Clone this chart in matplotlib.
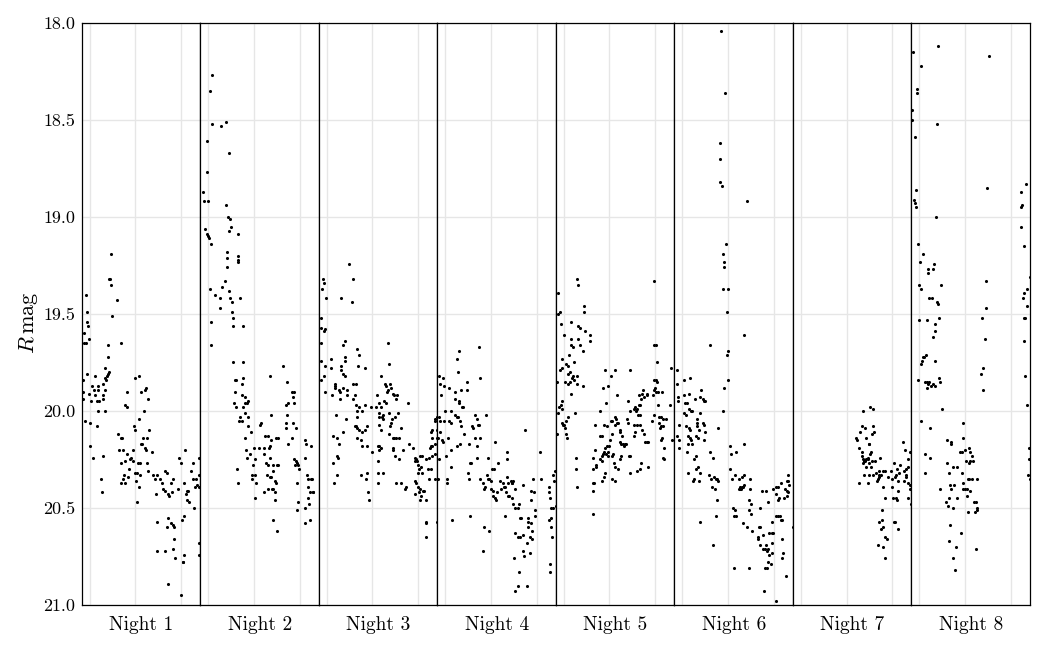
import matplotlib
matplotlib.use("Agg")
import matplotlib.pyplot as plt
from matplotlib.ticker import FormatStrFormatter

plt.rcParams["font.family"] = "serif"
plt.rcParams["font.serif"] = ["cmr10", "DejaVu Serif"]
plt.rcParams["mathtext.fontset"] = "cm"
plt.rcParams["axes.formatter.use_mathtext"] = True

# hours since the first grid line of each night, R magnitude
night1_hr = [-0.08, -0.07, -0.05, -0.04, -0.12, -0.12, -0.09, -0.02,
             0.46, 0.42, 0.44, 0.47, 0.59, 0.48, 0.68, 0.39, 0.41,
             0.34, 0.33, 0.36, 0.37, 0.40, 0.43, -0.05, -0.14,
             0.04, 0.11, 0.18, -0.15, -0.01, 0.09, 0.12, 0.17, 0.30, 0.33,
             -0.15, 0.02, 0.15, 0.20, 0.28, 0.30, 0.17, 0.33,
             -0.11, 0.00, 0.15, 0.01, 0.08, 0.25, 0.27, 0.28,
             0.62, 0.69, 0.71, 0.76, 0.81, 0.82,
             1.00, 1.07, 1.11, 1.21, 1.23, 1.27, 1.19, 1.08, 0.97, 0.98,
             1.17, 1.13, 1.14, 1.20, 1.23, 1.26, 1.29,
             0.65, 0.73, 0.81, 0.88, 0.95, 0.91, 0.94, 1.05, 1.10, 1.26, 1.36,
             0.68, 0.76, 0.85, 0.75, 0.72, 0.69, 0.78, 0.84, 1.00, 1.03, 1.10, 1.27, 1.01, 1.03, 1.08,
             1.39, 1.43, 1.48, 1.64, 1.68, 1.53, 1.59, 1.82, 1.77,
             1.45, 1.61, 1.64, 1.71, 1.74, 1.80, 1.93, 2.07, 2.12, 2.15, 2.26, 2.33, 2.38, 2.31, 2.35, 2.39,
             1.46, 1.68, 1.71, 1.77, 1.81, 1.85, 2.01, 2.06,
             1.48, 1.65, 1.84, 1.83, 1.87, 2.06, 2.03, 2.04, 1.72, 2.00,
             1.96, 1.99, 2.09, 2.25, 2.22, 2.38, 2.10, 2.13, 2.17, 2.28, 2.38, 2.39]
night1_mag = [19.40, 19.49, 19.54, 19.56, 19.60, 19.65, 19.65, 19.63,
              19.19, 19.32, 19.32, 19.35, 19.43, 19.51, 19.65, 19.66, 19.72,
              19.78, 19.83, 19.84, 19.82, 19.81, 19.80, 19.81, 19.84,
              19.87, 19.82, 19.87, 19.90, 19.91, 19.89, 19.92, 19.89, 19.86, 19.89,
              19.94, 19.95, 19.95, 19.95, 19.94, 19.92, 20.00, 20.00,
              20.05, 20.06, 20.08, 20.18, 20.24, 20.35, 20.42, 20.23,
              20.12, 20.14, 20.14, 19.97, 19.98, 19.90,
              19.83, 19.82, 19.90, 19.89, 19.88, 19.94, 20.00, 20.04, 20.08, 20.10,
              20.14, 20.17, 20.17, 20.19, 20.20, 20.14, 20.10,
              20.20, 20.20, 20.22, 20.25, 20.20, 20.24, 20.26, 20.27, 20.27, 20.27, 20.21,
              20.27, 20.26, 20.30, 20.33, 20.35, 20.37, 20.37, 20.34, 20.32, 20.32, 20.33, 20.31, 20.36, 20.47, 20.39,
              20.33, 20.35, 20.33, 20.31, 20.32, 20.35, 20.37, 20.35, 20.37,
              20.43, 20.40, 20.41, 20.43, 20.44, 20.42, 20.40, 20.37, 20.41, 20.41, 20.35, 20.35, 20.33, 20.39, 20.38, 20.39,
              20.57, 20.60, 20.55, 20.58, 20.59, 20.60, 20.56, 20.54,
              20.72, 20.72, 20.66, 20.71, 20.76, 20.74, 20.78, 20.78, 20.89, 20.95,
              20.24, 20.27, 20.20, 20.27, 20.31, 20.24, 20.43, 20.46, 20.47, 20.50, 20.74, 20.68]

night2_hr = [0.09, 0.04, 0.09, 0.28, 0.39, -0.03, 0.45, -0.02, -0.12, -0.10, 0.00,
             0.38, 0.44, 0.48, 0.49, 0.45, -0.06, -0.03, -0.01, 0.01, 0.07, 0.65,
             0.41, 0.41, 0.66, 0.65, 0.64, 0.42, 0.03, 0.15, 0.25, 0.29, 0.36,
             0.45, 0.48, 0.52, 0.70, 0.26, 0.51, 0.54, 0.55, 0.76, 0.06, 0.06,
             0.55, 0.77, 0.58, 0.61, 0.77, 0.73, 0.58, 0.74, 0.80, 0.84, 0.87, 0.80,
             0.57, 0.61, 0.77, 0.80, 0.70, 0.68, 0.73, 0.86, 0.86, 0.93, 0.81,
             0.83, 0.84, 0.91, 0.99, 0.63, 0.64, 0.97, 0.95, 1.03, 0.96, 1.03, 1.05, 1.12, 1.02,
             1.13, 1.16, 1.25, 1.22, 1.21, 1.32, 1.35, 1.31, 1.38, 1.35, 1.37, 1.48, 1.53,
             1.27, 1.30, 1.34, 1.28, 1.34, 1.37, 1.41, 1.42, 1.51, 1.53,
             1.31, 1.40, 1.42, 1.45, 1.22, 1.45, 1.48, 1.47, 1.41, 1.51,
             1.64, 1.72, 1.83, 1.88, 1.85, 1.75, 1.70, 1.88, 1.72, 1.70, 1.70, 1.85, 1.92, 1.83, 1.75,
             1.88, 1.91, 1.94, 1.90, 1.96, 1.98, 1.95, 1.96, 1.95,
             2.11, 2.14, 2.24, 2.12, 2.15, 2.18, 2.24, 2.27, 2.18, 2.22, 2.28, 2.30, 2.17, 2.21, 2.11, 2.22, 2.11]
night2_mag = [18.27, 18.35, 18.52, 18.53, 18.51, 18.61, 18.67, 18.77, 18.87, 18.92, 18.92,
              18.94, 19.00, 19.01, 19.05, 19.07, 19.06, 19.09, 19.10, 19.11, 19.14, 19.09,
              19.18, 19.21, 19.20, 19.22, 19.23, 19.26, 19.37, 19.40, 19.42, 19.36, 19.33,
              19.38, 19.42, 19.44, 19.42, 19.47, 19.49, 19.52, 19.56, 19.56, 19.54, 19.66,
              19.75, 19.75, 19.84, 19.84, 19.83, 19.86, 19.90, 19.92, 19.93, 19.96, 19.95, 19.96,
              19.96, 19.98, 19.98, 20.01, 20.03, 20.05, 20.05, 20.03, 20.08, 20.11, 20.14,
              20.20, 20.24, 20.22, 20.19, 20.30, 20.37, 20.28, 20.33, 20.25, 20.35, 20.33, 20.37, 20.19, 20.45,
              20.07, 20.06, 20.13, 20.19, 20.22, 20.19, 20.18, 20.13, 20.15, 19.82, 20.02, 20.14, 20.14,
              20.27, 20.28, 20.24, 20.33, 20.34, 20.34, 20.28, 20.31, 20.28, 20.28,
              20.40, 20.40, 20.40, 20.42, 20.42, 20.36, 20.37, 20.46, 20.56, 20.62,
              19.77, 19.85, 19.90, 19.90, 19.93, 19.96, 19.97, 19.96, 20.02, 20.06, 20.09, 20.06, 20.09, 20.14, 20.17,
              20.25, 20.26, 20.27, 20.28, 20.28, 20.30, 20.37, 20.47, 20.51,
              20.15, 20.17, 20.18, 20.24, 20.33, 20.35, 20.35, 20.35, 20.39, 20.42, 20.42, 20.42, 20.45, 20.48, 20.50, 20.56, 20.58]

night3_hr = [0.49, 0.57, 0.55, -0.09, -0.07, -0.10, -0.01, 0.32,
             -0.13, -0.13, -0.13, -0.06, -0.03, -0.13, -0.03, -0.13, -0.06, -0.04,
             0.09, 0.10, 0.35, 0.39, 0.39, 0.39, 0.31, 0.31, 0.35, 0.41,
             0.17, 0.19, 0.17, 0.26, 0.28, 0.35, 0.44, 0.12, 0.29, 0.45,
             0.67, 0.70, 0.68, 0.83, 0.58, 0.63, 0.61, 0.58, 0.63, 0.70, 0.77, 0.67, 0.66, 0.84, 0.96,
             0.20, 0.42, 0.36, 0.61, 0.64, 0.67, 0.71, 0.76, 0.84, 0.87,
             0.66, 0.74, 0.76, 0.89, 0.13, 0.23, 0.26, 0.22, 0.25, 0.13, 0.74, 0.22, 0.15,
             0.86, 0.89, 0.90, 0.92, 0.99,
             1.08, 1.18, 1.09, 1.15, 1.19, 1.15, 1.15, 1.21, 1.22, 1.15, 1.18,
             1.11, 1.14, 1.15, 1.19, 1.12, 1.12, 1.24, 1.11,
             1.34, 1.36, 1.27, 1.29, 1.31, 1.34, 1.38, 1.40, 1.45, 1.48, 1.25, 1.29, 1.22, 1.35,
             1.51, 1.54, 1.56, 1.43, 1.40, 1.38, 1.50, 1.44, 1.47, 1.45, 1.45, 1.35, 1.51, 1.57, 1.63, 1.77,
             1.50, 1.57, 1.51, 1.63, 1.67, 1.70, 1.73, 1.79, 1.88,
             1.92, 1.95, 1.98, 1.92, 1.99, 2.04, 2.09, 2.02, 1.99, 2.07, 2.08,
             1.92, 1.96, 1.99, 2.04, 1.92, 2.02, 2.07, 2.04, 2.10, 2.17, 2.12,
             2.18, 2.24, 2.30, 2.36, 2.21, 2.27, 2.25, 2.28, 2.31, 2.36,
             2.28, 2.31, 2.36, 2.37, 2.40, 2.40, 2.40, 2.24, 2.37, 2.30,
             2.17, 2.18, 2.17, 2.40]
night3_mag = [19.24, 19.32, 19.44, 19.32, 19.34, 19.37, 19.42, 19.42,
              19.52, 19.57, 19.65, 19.59, 19.58, 19.74, 19.77, 19.84, 19.82, 19.90,
              19.73, 19.78, 19.66, 19.64, 19.72, 19.74, 19.77, 19.79, 19.81, 19.82,
              19.86, 19.87, 19.88, 19.89, 19.90, 19.88, 19.89, 19.92, 19.94, 19.92,
              19.68, 19.71, 19.77, 19.78, 19.86, 19.86, 19.92, 19.94, 19.97, 19.98, 20.00, 20.00, 20.03, 19.97, 19.98,
              20.02, 20.04, 20.11, 20.08, 20.08, 20.09, 20.10, 20.11, 20.10, 20.08,
              20.14, 20.15, 20.18, 20.18, 20.13, 20.14, 20.17, 20.23, 20.24, 20.27, 20.33, 20.33, 20.37,
              20.35, 20.32, 20.42, 20.46, 20.21,
              19.98, 19.82, 19.92, 19.96, 19.98, 20.01, 20.03, 20.03, 20.04, 20.07, 20.10,
              20.18, 20.18, 20.20, 20.19, 20.26, 20.32, 20.32, 20.37,
              19.65, 19.76, 19.86, 19.87, 19.90, 19.89, 19.86, 19.88, 19.91, 19.92, 19.95, 19.96, 20.02, 20.01,
              19.94, 19.92, 20.01, 20.04, 20.06, 20.08, 20.03, 20.14, 20.14, 20.19, 20.20, 20.12, 20.14, 20.14, 20.09, 19.96,
              20.23, 20.25, 20.37, 20.37, 20.20, 20.40, 20.39, 20.17, 20.19,
              20.24, 20.25, 20.26, 20.26, 20.28, 20.23, 20.23, 20.30, 20.32, 20.29, 20.32,
              20.36, 20.37, 20.39, 20.40, 20.43, 20.42, 20.44, 20.46, 20.41, 20.46, 20.41,
              20.25, 20.24, 20.23, 20.22, 20.30, 20.30, 20.19, 20.18, 20.18, 20.17,
              20.11, 20.14, 20.05, 20.04, 20.03, 20.10, 20.14, 20.35, 20.35, 20.10,
              20.58, 20.57, 20.65, 20.57]

night4_hr = [0.74, 0.29, 0.25, 0.28, 0.76, -0.13, -0.04, -0.12, -0.03, 0.09, -0.10,
             0.22, 0.35, 0.48, 0.48, 0.22, 0.29, 0.31, 0.36, 0.39, 0.00,
             0.13, 0.09, 0.12, -0.13, -0.12, -0.03, 0.22, 0.25, 0.28, 0.32, 0.34,
             0.66, 0.69, 0.74, 0.72, 0.58, 0.60, 0.89,
             -0.12, -0.07, -0.04, -0.16, 0.06, 0.41, 0.51, 0.66, 0.69, 0.77,
             0.12, 0.25, 0.32, 0.01, 0.13, 0.03, 0.04, -0.13, -0.16,
             0.70, 0.93, 1.08, 0.50, 0.51, 0.55, 0.57,
             0.77, 0.83, 0.86, 0.85, 0.91, 0.93, 0.96, 0.99, 1.02, 1.07,
             1.01, 1.05, 1.04, 1.15, 1.20, 1.26, 1.28, 1.21, 1.14, 1.09, 1.12,
             1.34, 1.36, 1.74, 1.34, 1.37, 1.43, 1.46, 1.31, 1.33, 1.37, 1.40, 1.45,
             1.49, 1.47, 1.53, 1.49, 1.53, 1.59, 1.62, 1.69, 1.31, 1.64, 1.66,
             1.80, 1.81, 1.88, 1.91, 1.88, 1.94, 1.88, 1.96, 1.97, 1.90,
             2.07, 2.09, 0.85, 0.96, 0.82, 0.55, 0.15,
             1.53, 1.58, 1.64, 1.69, 1.78, 1.80, 1.85, 1.90,
             1.50, 1.61, 1.69, 1.72, 1.85, 1.52, 1.59, 1.78,
             2.26, 2.26, 2.29, 2.26, 2.31, 2.32, 2.34, 2.28, 2.29,
             2.35, 2.38, 2.39, 2.42, 2.36, 2.31]
night4_mag = [19.67, 19.69, 19.73, 19.80, 19.83, 19.82, 19.83, 19.86, 19.87, 19.88, 19.92,
              19.90, 19.89, 19.89, 19.85, 19.94, 19.95, 19.96, 19.98, 19.98, 20.00,
              20.00, 20.05, 20.06, 20.03, 20.05, 20.05, 20.02, 20.03, 20.03, 20.05, 20.08,
              20.02, 20.04, 20.07, 20.07, 20.08, 20.09, 20.02,
              20.11, 20.15, 20.16, 20.14, 20.14, 20.12, 20.17, 20.14, 20.18, 20.14,
              20.20, 20.18, 20.17, 20.23, 20.29, 20.35, 20.37, 20.25, 20.35,
              20.24, 20.24, 20.16, 20.32, 20.35, 20.27, 20.27,
              20.35, 20.37, 20.39, 20.40, 20.33, 20.35, 20.35, 20.36, 20.30, 20.30,
              20.40, 20.41, 20.44, 20.27, 20.36, 20.37, 20.39, 20.40, 20.42, 20.45, 20.46,
              20.21, 20.25, 20.10, 20.34, 20.37, 20.36, 20.37, 20.39, 20.42, 20.44, 20.44, 20.45,
              20.36, 20.37, 20.40, 20.48, 20.50, 20.50, 20.48, 20.38, 20.54, 20.55, 20.55,
              20.55, 20.57, 20.58, 20.35, 20.41, 20.42, 20.46, 20.51, 20.54, 20.62,
              20.21, 20.35, 20.60, 20.62, 20.72, 20.54, 20.56,
              20.63, 20.65, 20.65, 20.64, 20.68, 20.60, 20.65, 20.66,
              20.76, 20.83, 20.72, 20.75, 20.73, 20.93, 20.90, 20.90,
              20.39, 20.42, 20.45, 20.56, 20.55, 20.60, 20.65, 20.79, 20.83,
              20.33, 20.36, 20.31, 20.49, 20.50, 20.50]

night5_hr = [0.29, 0.32, 1.98, -0.13, -0.12, -0.09, -0.06, 0.45, 0.45, 0.15,
             0.32, 0.35, 0.47, 0.57, 0.58, 0.01, 0.15, 0.16, 0.20, 0.32, 0.35, 0.41,
             0.12, -0.03, -0.04, -0.09, 0.04, 0.09, 0.10, 0.23, 0.13,
             0.20, 0.17, 0.23, 0.28, 0.29, 0.03, 0.09, 0.13, -0.15, 0.41, 0.16,
             -0.03, -0.07, -0.10, -0.13, -0.04, 0.25, 0.09, 0.06, -0.04, -0.01, 0.01,
             0.03, 0.06, 0.07, -0.15, 0.26, 0.26, 0.28,
             0.90, 1.13, 1.45, 1.03, 0.86, 0.96, 1.16, 0.93, 0.79,
             1.03, 1.06, 0.68, 0.89, 0.95, 1.12, 1.15, 1.16, 1.18, 1.12,
             0.80, 0.84, 1.05, 1.24,
             0.68, 0.64, 0.63, 0.63, 0.67, 0.65, 0.63, 0.71, 0.71,
             0.79, 0.83, 0.83, 0.86, 0.90, 0.95, 0.96, 0.89, 0.93, 0.96, 0.98, 1.02,
             1.09, 1.11, 1.08, 1.05, 1.11, 1.06, 0.83, 0.87, 0.90,
             1.19, 1.22, 1.25, 1.29, 1.32, 1.34, 1.37, 1.43, 1.45, 1.44, 1.22, 1.25,
             1.27, 1.24, 1.38, 1.40, 1.41, 1.44,
             1.53, 1.56, 1.59, 1.61, 1.63, 1.67, 1.54, 1.60, 1.67,
             1.64, 1.67, 1.69, 1.64, 1.70, 1.73, 1.76, 1.81, 1.83,
             1.53, 1.56, 1.70, 1.75, 1.83, 1.84, 1.78, 1.60, 1.67, 1.69, 1.85,
             1.96, 1.98, 1.99, 2.02, 1.93, 1.98, 1.98, 2.01, 2.04,
             1.98, 2.01, 2.04, 2.07, 2.14, 2.07, 2.08, 2.12, 2.17,
             2.08, 2.12, 2.18, 2.10, 2.14, 2.12, 2.20, 2.17, 2.20,
             2.24, 2.33, 2.34, 2.36]
night5_mag = [19.32, 19.35, 19.33, 19.39, 19.50, 19.49, 19.55, 19.46, 19.49, 19.54,
              19.56, 19.57, 19.59, 19.61, 19.64, 19.61, 19.63, 19.66, 19.67, 19.63, 19.66, 19.69,
              19.71, 19.73, 19.78, 19.79, 19.76, 19.77, 19.81, 19.75, 19.80,
              19.82, 19.83, 19.84, 19.82, 19.86, 19.85, 19.86, 19.85, 19.85, 19.87, 19.91,
              19.95, 19.97, 19.98, 20.01, 19.99, 20.01, 20.03, 20.05, 20.06, 20.07, 20.07,
              20.09, 20.12, 20.14, 20.12, 20.24, 20.30, 20.39,
              19.79, 19.79, 19.79, 19.82, 19.88, 19.87, 19.92, 19.96, 20.00,
              20.05, 20.05, 20.07, 20.07, 20.08, 20.03, 20.04, 20.06, 20.06, 20.07,
              20.13, 20.13, 20.12, 20.11,
              20.20, 20.24, 20.30, 20.37, 20.37, 20.41, 20.53, 20.28, 20.29,
              20.25, 20.26, 20.23, 20.22, 20.19, 20.18, 20.23, 20.21, 20.22, 20.21, 20.18, 20.15,
              20.27, 20.29, 20.22, 20.23, 20.36, 20.35, 20.36, 20.34, 20.32,
              20.30, 20.16, 20.17, 20.17, 20.18, 20.17, 20.17, 20.23, 20.23, 20.32, 20.25, 20.23,
              20.13, 20.10, 20.04, 20.06, 19.95, 20.00,
              19.99, 19.98, 20.00, 19.99, 20.02, 20.02, 20.07, 20.07, 20.07,
              19.97, 19.97, 19.94, 19.92, 19.91, 19.89, 19.93, 19.92, 19.91,
              20.13, 20.11, 20.10, 20.12, 20.16, 20.16, 20.16, 20.31, 20.30, 20.27, 20.29,
              19.92, 19.89, 19.88, 19.90, 20.05, 20.02, 19.66, 19.66, 19.75,
              19.84, 19.84, 19.85, 19.90, 19.90, 19.97, 20.03, 20.03, 20.04,
              20.06, 20.08, 20.08, 20.09, 20.14, 20.15, 20.19, 20.24, 20.25,
              20.04, 19.97, 19.78, 20.15]

night6_hr = [0.85, 0.93, 0.82, 0.83, 0.83, 0.86, 1.42,
             0.95, 0.88, 0.91, 0.92, 0.89, 1.01, 0.98, 1.34, 0.60, 1.01, 0.98,
             -0.12, -0.12, 0.03, 0.16, 1.01, 0.91,
             -0.09, -0.09, 0.04, 0.15, 0.06, 0.10, 0.15, 0.19, 0.22, 0.04, 0.09,
             0.28, 0.39, 0.45, 0.48, 0.50, 0.41, 0.88,
             -0.06, -0.12, -0.07, -0.06, 0.09, 0.15, 0.18, 0.12, 0.18, 0.20,
             0.32, 0.32, 0.32, 0.45, 0.48, 0.38, 0.36, 0.50, 0.29, 0.35, 0.48,
             0.12, 0.22, 0.10, 0.29, 0.25, 0.34, 0.31, 0.39, 0.13, 0.25, 0.23, 0.36,
             0.58, 0.63, 0.69, 0.73, 0.79, 0.77, 0.64, 0.72, 0.76,
             0.79, 0.61, 0.67, 0.74, 0.67, 0.38,
             1.05, 1.07, 1.17, 1.36, 1.04, 1.08, 1.15,
             1.24, 1.26, 1.27, 1.28, 1.31, 1.33, 1.34, 1.23, 1.31, 1.34,
             1.12, 1.15, 1.18, 1.14, 1.49, 1.49, 1.46, 1.50, 1.46, 1.50,
             1.33, 1.42, 1.52, 1.71, 1.75, 1.82, 1.87,
             1.99, 2.06, 2.10, 2.15, 2.28, 2.31, 2.32, 2.34,
             2.06, 2.12, 2.09, 2.23, 2.28, 2.32, 2.25, 2.28,
             2.04, 2.10, 2.13, 2.15, 2.18, 1.97,
             1.90, 1.96, 1.99, 1.68, 1.71, 1.77, 1.66, 1.65,
             1.69, 1.77, 1.81, 1.85, 1.88, 1.84, 1.90, 1.96, 1.97,
             1.87, 1.93, 1.81, 1.85, 2.18, 2.20, 2.19,
             1.14, 1.46, 2.26, 1.78, 2.04, 2.41]
night6_mag = [18.04, 18.36, 18.62, 18.70, 18.82, 18.84, 18.92,
              19.14, 19.19, 19.23, 19.26, 19.37, 19.37, 19.49, 19.61, 19.66, 19.69, 19.71,
              19.79, 19.86, 19.84, 19.83, 19.84, 19.88,
              19.93, 19.95, 19.92, 19.91, 19.96, 19.96, 19.99, 20.00, 20.00, 20.01, 20.02,
              19.94, 19.93, 19.94, 19.95, 19.95, 19.89, 20.00,
              20.07, 20.13, 20.15, 20.19, 20.08, 20.09, 20.10, 20.13, 20.14, 20.15,
              20.04, 20.06, 20.08, 20.06, 20.07, 20.01, 20.10, 20.11, 20.13, 20.14, 20.15,
              20.17, 20.17, 20.21, 20.23, 20.25, 20.29, 20.30, 20.32, 20.32, 20.35, 20.36, 20.36,
              20.33, 20.35, 20.34, 20.35, 20.36, 20.35, 20.39, 20.40, 20.46,
              20.09, 20.21, 20.24, 20.54, 20.69, 20.57,
              20.18, 20.22, 20.21, 20.17, 20.30, 20.35, 20.33,
              20.40, 20.39, 20.40, 20.40, 20.39, 20.39, 20.38, 20.35, 20.34, 20.33,
              20.50, 20.51, 20.54, 20.54, 20.35, 20.40, 20.46, 20.48, 20.51, 20.53,
              20.58, 20.60, 20.62, 20.50, 20.41, 20.41, 20.47,
              20.40, 20.39, 20.39, 20.37, 20.36, 20.33, 20.36, 20.38,
              20.43, 20.45, 20.46, 20.45, 20.44, 20.42, 20.40, 20.41,
              20.54, 20.54, 20.54, 20.56, 20.56, 20.57,
              20.63, 20.63, 20.63, 20.60, 20.60, 20.64, 20.66, 20.65,
              20.69, 20.71, 20.71, 20.72, 20.71, 20.69, 20.74, 20.68, 20.73,
              20.78, 20.79, 20.81, 20.81, 20.66, 20.73, 20.76,
              20.81, 20.81, 20.85, 20.93, 20.98, 20.60]

night7_hr = [1.37, 1.52, 1.59, 1.33, 1.40, 1.21, 1.23, 1.30, 1.43, 1.58, 1.61,
             1.49, 1.50, 1.28, 1.56,
             1.33, 1.34, 1.36, 1.37, 1.39, 1.40, 1.43, 1.47, 1.52, 1.53, 1.46,
             1.50, 1.56, 1.62, 1.43, 1.53, 1.74, 1.39, 1.50, 1.59, 1.28, 1.46,
             1.65, 1.71, 1.72, 1.69, 1.66, 1.72, 1.75, 1.80, 1.85, 1.91,
             1.80, 1.85, 1.97, 2.00, 1.99, 2.03, 2.10, 2.15, 2.16,
             2.06, 2.09, 2.12, 2.23, 2.28, 2.26, 2.29, 2.31, 2.34,
             2.35, 2.39, 2.34, 2.38, 2.39, 2.35, 2.41, 2.12, 2.10, 2.02, 2.09,
             2.26, 2.31,
             1.77, 1.71, 1.78, 1.80, 1.75, 2.04, 2.07, 2.12, 1.84, 1.88, 1.69, 1.80, 1.85]
night7_mag = [20.00, 19.98, 19.99, 20.08, 20.09, 20.14, 20.15, 20.11, 20.14, 20.08, 20.11,
              20.17, 20.17, 20.19, 20.12,
              20.21, 20.23, 20.25, 20.27, 20.26, 20.26, 20.25, 20.25, 20.22, 20.21, 20.24,
              20.27, 20.26, 20.26, 20.29, 20.29, 20.24, 20.33, 20.33, 20.33, 20.37, 20.37,
              20.32, 20.31, 20.33, 20.35, 20.36, 20.34, 20.33, 20.31, 20.31, 20.34,
              20.39, 20.45, 20.31, 20.35, 20.39, 20.27, 20.30, 20.32, 20.28,
              20.34, 20.33, 20.36, 20.16, 20.20, 20.31, 20.30, 20.33, 20.29,
              20.25, 20.21, 20.37, 20.38, 20.40, 20.45, 20.48, 20.41, 20.46, 20.45, 20.45,
              20.36, 20.34,
              20.51, 20.57, 20.56, 20.60, 20.61, 20.57, 20.57, 20.61, 20.65, 20.66, 20.69, 20.70, 20.76]

night8_hr = [0.41, 1.52, -0.13, 0.03, -0.06, -0.04, -0.15, -0.15, 0.39, -0.10,
             1.47, -0.07, -0.12, -0.09, -0.07, 2.34, 2.22, 2.25, 2.22,
             0.36, 2.23, 2.28, -0.03, 0.09, 0.01, 0.32, 0.31, 0.20, 0.19,
             0.47, -0.01, 0.03, 0.22, 0.28, 0.38, 0.41, 0.44, -0.01, 0.16,
             0.34, 0.35, 0.29,
             1.45, 1.46, 1.37, 1.43, 1.39, 1.36, 1.39,
             2.41, 2.36, 2.29, 2.26, 2.35, 2.28, 2.32, 2.29, 2.31, 2.36,
             0.10, 0.09, 0.15, 0.06, 0.04, 0.35,
             -0.03, 0.12, 0.16, 0.22, 0.19, 0.25, 0.29, 0.34, 0.44, 0.45, 0.16,
             0.50, 0.04, 0.23, 0.12, 0.23, 0.12, 0.45,
             0.61, 0.70, 0.69, 0.95, 0.96,
             0.90, 0.93, 1.01, 1.08, 1.12, 1.02, 1.09, 1.15, 1.17, 1.12,
             0.60, 0.83, 0.73, 0.64, 0.67, 0.77, 0.70,
             0.93, 0.96, 1.07, 1.09, 1.15, 1.26, 0.95, 0.99, 1.05,
             0.58, 0.63, 0.74, 0.66, 0.82, 1.05, 1.12, 1.20, 1.23,
             1.07, 1.21, 1.26, 1.27,
             0.67, 0.64, 0.92, 0.80, 0.74, 0.79, 1.24,
             2.39, 2.39, 2.38, 2.41]
night8_mag = [18.12, 18.17, 18.15, 18.22, 18.34, 18.36, 18.45, 18.50, 18.52, 18.59,
              18.85, 18.86, 18.91, 18.93, 18.95, 18.83, 18.87, 18.94, 18.95,
              19.00, 19.05, 19.15, 19.14, 19.19, 19.23, 19.24, 19.27, 19.27, 19.29,
              19.35, 19.35, 19.37, 19.42, 19.42, 19.44, 19.45, 19.52, 19.53, 19.53,
              19.55, 19.59, 19.62,
              19.33, 19.47, 19.52, 19.63, 19.78, 19.81, 19.89,
              19.31, 19.37, 19.39, 19.42, 19.46, 19.52, 19.52, 19.64, 19.82, 19.97,
              19.72, 19.72, 19.71, 19.74, 19.76, 19.74,
              19.84, 19.85, 19.85, 19.85, 19.86, 19.87, 19.86, 19.87, 19.83, 19.85, 19.88,
              19.99, 20.05, 20.09, 20.22, 20.24, 20.32, 20.40,
              20.15, 20.16, 20.17, 20.06, 20.14,
              20.21, 20.21, 20.20, 20.19, 20.21, 20.26, 20.27, 20.23, 20.26, 20.26,
              20.27, 20.29, 20.29, 20.32, 20.38, 20.38, 20.40,
              20.32, 20.37, 20.35, 20.35, 20.35, 20.35, 20.40, 20.40, 20.40,
              20.47, 20.49, 20.50, 20.45, 20.45, 20.44, 20.41, 20.47, 20.47,
              20.52, 20.52, 20.51, 20.50,
              20.59, 20.67, 20.63, 20.70, 20.76, 20.82, 20.71,
              20.19, 20.25, 20.33, 20.35]

night_names = ["Night 1", "Night 2", "Night 3", "Night 4",
               "Night 5", "Night 6", "Night 7", "Night 8"]
nights_hr = [night1_hr, night2_hr, night3_hr, night4_hr,
             night5_hr, night6_hr, night7_hr, night8_hr]
nights_mag = [night1_mag, night2_mag, night3_mag, night4_mag,
              night5_mag, night6_mag, night7_mag, night8_mag]
hour_grid = [0, 1, 2]
mag_ticks = [18.0, 18.5, 19.0, 19.5, 20.0, 20.5, 21.0]

fig = plt.figure(figsize=(10.48, 6.51), dpi=100)
axes = fig.subplots(1, 8, sharey=True)
fig.subplots_adjust(left=0.0782, right=0.9828, top=0.9647, bottom=0.0707, wspace=0)

for i, ax in enumerate(axes):
    ax.scatter(nights_hr[i], nights_mag[i], s=5, c="black", linewidths=0, zorder=3)
    ax.set_xlim(-0.17, 2.42)
    ax.set_xticks(hour_grid)
    ax.set_xticklabels([])
    ax.grid(True, color="#e6e6e6", linewidth=1.0)
    ax.set_axisbelow(True)
    ax.tick_params(length=0, labelsize=13, pad=5)
    for sp in ax.spines.values():
        sp.set_color("black")
        sp.set_linewidth(0.9)
    ax.text(0.5, -0.034, night_names[i], transform=ax.transAxes,
            ha="center", va="center", fontsize=14)

axes[0].set_ylim(21.0, 18.0)
axes[0].set_yticks(mag_ticks)
axes[0].yaxis.set_major_formatter(FormatStrFormatter("%.1f"))
axes[0].set_ylabel(r"$R\,\mathrm{mag}$", fontsize=16)
axes[0].yaxis.set_label_coords(-0.35, 0.485)

fig.savefig("out.png", dpi=100)
